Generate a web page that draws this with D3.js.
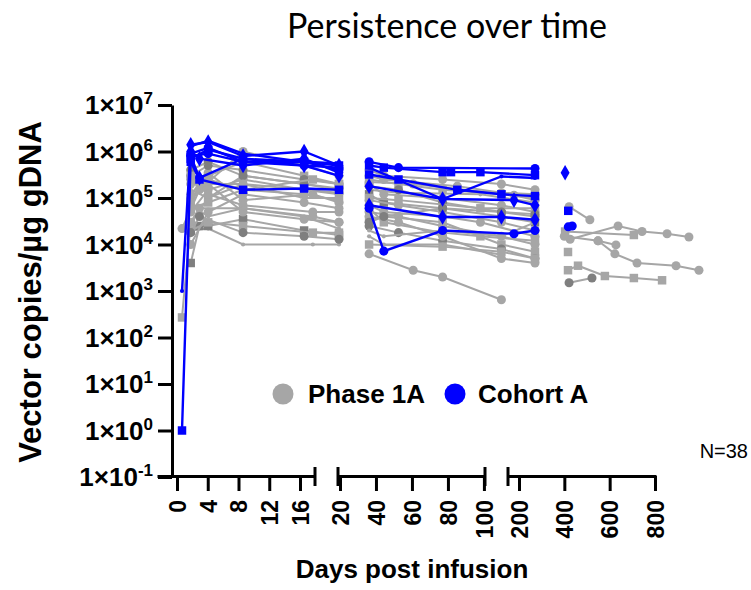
<!DOCTYPE html>
<html>
<head>
<meta charset="utf-8">
<script src="https://cdn.jsdelivr.net/npm/d3@7"></script>
<style>
  body { margin: 0; background: #fff; }
  svg { font-family: "Liberation Sans", Arial, sans-serif; }
</style>
</head>
<body>
<svg id="chart" width="751" height="590"></svg>
<script>
// each series is a list of [day, vector copies per ug gDNA]
var phase1AEarly = [
  [[0,2.2e4],[2,1.5e5],[7,1e6],[14,5e5],[18,3e5]],
  [[0,2.7e2],[1,3e4],[3,1e5],[7,3e5],[14,2e5],[18,1.5e5]],
  [[1,3e4],[2,6e4],[7,6e4],[15,4e4],[18,3e4]],
  [[1,2e4],[3,2.2e4],[7,1e4],[15,1e4],[18,1e4]],
  [[1,4e3],[2,2.5e4],[3,2.5e4],[7,3.5e4],[14,2e4],[18,1.6e4]],
  [[1,1e5],[3,2e5],[7,5e4],[14,3.5e4],[18,3e4]],
  [[1,2e5],[3,3.5e5],[7,9e4],[15,1.2e5],[18,8e4]],
  [[1,5e4],[3,1.5e5],[7,2.5e5],[14,1.5e5],[18,1.2e5]],
  [[1,8e4],[3,3e5],[7,6e5],[14,3e5],[18,2e5]],
  [[1,3e5],[3,5e5],[7,4e5],[14,2.5e5],[18,2e5]],
  [[1,1.5e5],[3,1e5],[7,2e5],[14,1e5],[18,1e5]],
  [[1,6e4],[3,8e4],[7,1.5e5],[14,1.2e5],[18,9e4]],
  [[1,2.5e5],[3,1.2e5],[7,7e4],[15,5e4],[18,5e4]],
  [[1,1e4],[3,5e4],[7,1.2e5],[14,8e4],[18,6e4]],
  [[1,4e5],[3,6e5],[7,3e5],[14,2e5],[18,1.6e5]],
  [[1,2e4],[3,3e4],[7,2.5e4],[15,1.8e4],[18,1.8e4]],
  [[1,1.2e5],[2,2e5],[7,2e5],[14,1.5e5],[18,1.3e5]],
  [[1,7e4],[3,4e4],[7,6e4],[14,4e4],[18,2.2e4]],
  [[1,3e5],[3,2.5e5],[7,1.5e5],[15,2.5e5],[18,2e5]],
  [[1,1.8e4],[2,4e4],[7,1.8e4],[14,1.5e4],[18,1.3e4]]
];
var phase1AMid = [
  [[21,4e5],[28,3e5],[56,2.5e5],[84,2e5],[100,1.5e5]],
  [[21,2.5e5],[35,2e5],[56,1.5e5],[84,1.2e5],[100,1e5]],
  [[21,2e5],[28,1.2e5],[56,1e5],[84,7e4],[100,5e4]],
  [[21,1.5e5],[35,1.3e5],[74,1.2e5],[100,8e4]],
  [[21,1.2e5],[28,8e4],[56,6e4],[84,4e4],[100,3e4]],
  [[21,9e4],[35,7e4],[56,5e4],[84,3e4],[100,2e4]],
  [[21,7e4],[28,5e4],[56,4e4],[74,3e4],[100,1.5e4]],
  [[21,5e4],[35,4e4],[56,2.5e4],[84,1.5e4],[100,1e4]],
  [[21,3.5e4],[28,4e4],[56,3e4],[84,1e4],[100,7e3]],
  [[21,2.5e4],[35,1.8e4],[56,1.2e4],[84,8e3],[100,5e3]],
  [[21,1.5e4],[28,1e4],[56,1e4],[84,6e3]],
  [[21,1e4],[56,9e3],[84,7e3],[100,5e3]],
  [[21,6.3e3],[42,2.8e3],[56,2e3],[84,6.5e2]],
  [[21,3e5],[28,2.5e5],[63,1.8e5],[84,1.3e5],[100,1.2e5]],
  [[21,1.8e5],[35,1.5e5],[56,8e4],[84,5e4],[100,4e4]],
  [[21,6e4],[28,3e4],[56,1.8e4],[74,1.5e4],[100,1.2e4]],
  [[21,4e4],[35,3e4],[56,1.5e4],[84,5e3],[100,4e3]],
  [[21,2e4],[28,1.5e4],[56,2e4],[84,1.5e4],[100,3e4]],
  [[21,1e5],[35,9e4],[74,6e4],[100,6e4]],
  [[21,3e4],[28,4e4],[56,6e4],[84,5e4],[100,4.5e4]],
  [[21,2.2e5],[42,2e5],[90,1.15e5],[100,9e4]]
];
var phase1ALate = [
  [[203,6.5e4],[282,3.4e4]],
  [[207,1.3e4],[389,2.5e4],[480,1.9e4],[575,1.7e4],[658,1.45e4]],
  [[188,1.9e4],[449,1.6e4]],
  [[185,1.5e4],[313,1.2e4],[381,9.8e3]],
  [[313,1.2e4],[377,6.3e3],[461,4e3],[609,3.5e3],[696,2.8e3]],
  [[199,6.9e3]],
  [[199,2.8e3],[237,3.5e3],[339,2.1e3],[449,1.9e3],[556,1.7e3]],
  [[203,1.5e3],[290,1.9e3]]
];
var cohortAEarly = [
  [[0,1],[1,7e5],[3,1.1e6],[7,7e5],[14,6e5],[18,5e5]],
  [[0,1e3],[1,1.3e6],[3,1.7e6],[7,9e5],[14,6e5],[18,5.5e5]],
  [[1,1.4e6],[3,1.6e6],[7,8e5],[14,1e6],[18,5e5]],
  [[1,6e5],[2,2.5e5],[7,1.5e5],[14,1.6e5],[18,1.5e5]],
  [[1,9e5],[3,1.2e6],[7,6e5],[14,5e5],[18,4.5e5]],
  [[1,1e6],[2,7e5],[7,5e5],[14,7e5],[18,3.5e5]],
  [[1,8e5],[3,9e5],[7,6e5],[14,6e5],[18,4e5]],
  [[1,8e5],[2,2.7e5],[7,7e5],[14,5e5],[18,3e5]]
];
var cohortAMid = [
  [[21,5e5],[28,4.5e5],[56,3.6e5],[60,3.6e5],[74,3.6e5],[100,3.1e5]],
  [[21,4.5e5],[56,9.5e4],[84,2.9e5],[100,2.7e5]],
  [[21,1.8e5],[56,9.5e4],[90,9e4],[100,7e4]],
  [[21,3.2e5],[35,2.5e5],[63,1.5e5],[84,1.2e5],[100,1.1e5]],
  [[21,6e4],[28,7.2e3],[56,2e4],[90,1.7e4],[100,2e4]],
  [[21,7e4],[56,3.9e4],[84,3.9e4],[100,3.4e4]],
  [[21,6e5],[35,4.5e5],[100,4.3e5]]
];
var cohortALate = [
  [[188,3.5e5]],
  [[200,5.3e4]],
  [[200,2.4e4]],
  [[215,2.5e4]]
];
var yTickExponents = [-1, 0, 1, 2, 3, 4, 5, 6, 7];
var xTicksEarly = [0, 4, 8, 12, 16];
var xTicksMid = [20, 40, 60, 80, 100];
var xTicksLate = [200, 400, 600, 800];
var legendNames = ["Phase 1A", "Cohort A"];

var GRAY = "#a6a6a6", DARK = "#7f7f7f", BLUE = "#0000ff";
var svg = d3.select("#chart");

var y = d3.scaleLog().domain([0.1, 1e7]).range([477, 105]);

// axis segments (broken x axis)
var xAxEarly = d3.scaleLinear().domain([-2.6, 17.95]).range([157, 315]);
var xAxMid = d3.scaleLinear().domain([18.9, 100.6]).range([338, 485]);
var xAxLate = d3.scaleLinear().domain([151.5, 804.4]).range([508, 656]);

// the data layer in the figure sits a bit offset from its axis, so it gets its own scales
var xEarly = d3.scaleLinear().domain([0, 18]).range([182, 339]);
var xMid = d3.scaleLinear().domain([20, 100]).range([367, 535]);
var xLate = d3.scaleLinear().domain([180, 700]).range([563, 700]);

function addText(x, yy, str, size, weight, anchor) {
  return svg.append("text")
    .attr("x", x)
    .attr("y", yy)
    .attr("text-anchor", anchor)
    .attr("font-size", size)
    .attr("font-weight", weight)
    .attr("fill", "#000")
    .text(str);
}

// title
addText(447, 38, "Persistence over time", 34, "normal", "middle")
  .attr("font-family", "Lato, 'Liberation Sans', sans-serif");

// y axis
var yAxisG = svg.append("g")
  .attr("transform", "translate(172,0)")
  .call(d3.axisLeft(y).tickValues(yTickExponents.map(function(e) { return Math.pow(10, e); }))
    .tickSize(14).tickSizeOuter(0).tickFormat(""));
yAxisG.select(".domain").attr("stroke-width", 3);
yAxisG.selectAll(".tick line").attr("stroke-width", 3);

yTickExponents.forEach(function(e) {
  var t = addText(153, y(Math.pow(10, e)) + 9, "1×10", 26, "bold", "end");
  t.append("tspan").attr("font-size", 17).attr("dy", -10).text(e);
});

// y label
svg.append("text")
  .attr("transform", "translate(41,292) rotate(-90)")
  .attr("text-anchor", "middle")
  .attr("font-size", 31)
  .attr("font-weight", "bold")
  .text("Vector copies/µg gDNA");

// x axis segments
function xSegment(scale, ticks, capLeft, capRight) {
  var g = svg.append("g")
    .attr("transform", "translate(0,476)")
    .call(d3.axisBottom(scale).tickValues(ticks).tickSize(15).tickSizeOuter(0));
  g.select(".domain").attr("stroke-width", 3);
  g.selectAll(".tick line").attr("stroke-width", 3);
  g.selectAll(".tick text")
    .attr("transform", "rotate(-90)")
    .attr("text-anchor", "end")
    .attr("x", -24)
    .attr("y", 0)
    .attr("dy", "0.36em")
    .attr("font-size", 23)
    .attr("font-weight", "bold")
    .attr("font-family", "Liberation Sans, Arial, sans-serif")
    .attr("fill", "#000");
  var r = scale.range();
  if (capLeft) {
    svg.append("line").attr("x1", r[0]).attr("x2", r[0]).attr("y1", 467).attr("y2", 486)
      .attr("stroke", "#000").attr("stroke-width", 3);
  }
  if (capRight) {
    svg.append("line").attr("x1", r[1]).attr("x2", r[1]).attr("y1", 467).attr("y2", 486)
      .attr("stroke", "#000").attr("stroke-width", 3);
  }
}
xSegment(xAxEarly, xTicksEarly, false, true);
xSegment(xAxMid, xTicksMid, true, true);
xSegment(xAxLate, xTicksLate, true, false);

addText(412, 578, "Days post infusion", 26, "bold", "middle");

// series
var symbolFor = {
  circle: d3.symbol().type(d3.symbolCircle).size(64)(),
  square: d3.symbol().type(d3.symbolSquare).size(72)(),
  diamond: d3.symbol().type(d3.symbolDiamond).size(70)(),
  dot: d3.symbol().type(d3.symbolCircle).size(14)()
};
var grayShapes = ["circle", "square", "circle", "dot", "square", "circle", "circle"];
var blueShapes = ["square", "dot", "diamond", "square", "circle", "diamond", "circle", "diamond"];

function drawSeries(list, xs, color, shapes, darkEvery, width) {
  var line = d3.line()
    .x(function(d) { return xs(d[0]); })
    .y(function(d) { return y(d[1]); });
  list.forEach(function(s, i) {
    var g = svg.append("g");
    g.append("path")
      .attr("d", line(s))
      .attr("fill", "none")
      .attr("stroke", color)
      .attr("stroke-width", width);
    var fill = (darkEvery && i % darkEvery === darkEvery - 1) ? DARK : color;
    g.selectAll("path.mark")
      .data(s)
      .enter().append("path")
      .attr("class", "mark")
      .attr("d", symbolFor[shapes[i % shapes.length]])
      .attr("fill", fill)
      .attr("transform", function(d) { return "translate(" + xs(d[0]) + "," + y(d[1]) + ")"; });
  });
}

drawSeries(phase1AEarly, xEarly, GRAY, grayShapes, 5, 2);
drawSeries(phase1AMid, xMid, GRAY, grayShapes, 5, 2);
drawSeries(phase1ALate, xLate, GRAY, ["circle", "circle", "square", "circle", "circle", "square", "square", "circle"], 8, 2);
drawSeries(cohortAEarly, xEarly, BLUE, blueShapes, 0, 2.4);
drawSeries(cohortAMid, xMid, BLUE, blueShapes, 0, 2.4);
drawSeries(cohortALate, xLate, BLUE, ["diamond", "square", "circle", "circle"], 0, 2.4);

// legend
var legend = svg.append("g");
[[283, 308, GRAY], [455, 478, BLUE]].forEach(function(p, i) {
  legend.append("circle").attr("cx", p[0]).attr("cy", 394).attr("r", 10.5).attr("fill", p[2]);
  addText(p[1], 403, legendNames[i], 26, "bold", "start");
});

addText(748, 458, "N=38", 20, "normal", "end");
</script>
</body>
</html>
